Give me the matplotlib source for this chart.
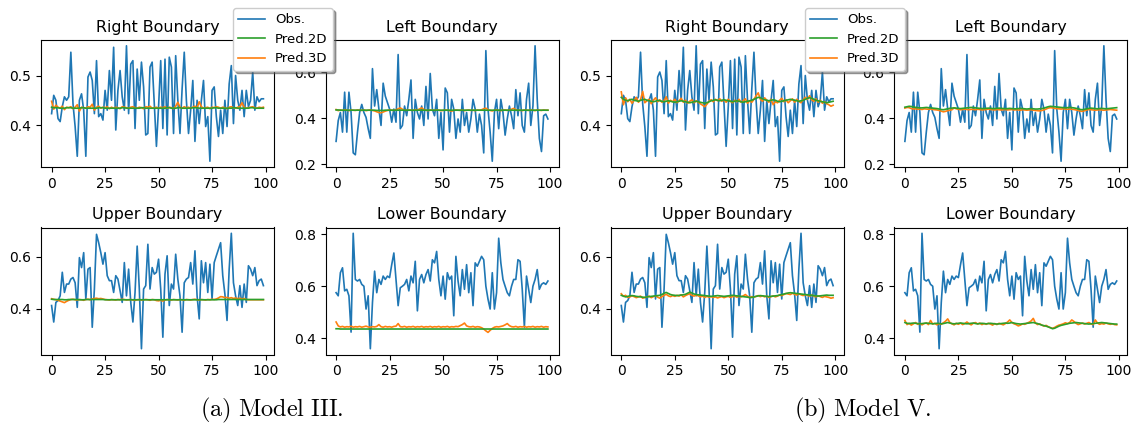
import matplotlib
matplotlib.use('Agg')
import matplotlib.pyplot as plt
import numpy as np

plt.rcParams['mathtext.fontset'] = 'cm'

titles = ['Right Boundary', 'Left Boundary', 'Upper Boundary', 'Lower Boundary']
labels = ['Obs.', 'Pred.2D', 'Pred.3D']
captions = [r'$\mathrm{(a)\ Model\ III.}$', r'$\mathrm{(b)\ Model\ V.}$']
xticks = [0, 25, 50, 75, 100]
yticks = [[0.4, 0.5], [0.2, 0.4, 0.6], [0.4, 0.6], [0.4, 0.6, 0.8]]

# observed boundary values (same in both models)
obs_right = [
    0.423, 0.460, 0.450, 0.413, 0.407, 0.437, 0.457, 0.450, 0.457, 0.547,
    0.443, 0.397, 0.337, 0.450, 0.463, 0.430, 0.337, 0.497, 0.507, 0.490,
    0.423, 0.530, 0.417, 0.423, 0.410, 0.470, 0.430, 0.510, 0.450, 0.557,
    0.390, 0.470, 0.510, 0.457, 0.430, 0.560, 0.423, 0.523, 0.530, 0.393,
    0.513, 0.450, 0.527, 0.477, 0.380, 0.383, 0.517, 0.527, 0.443, 0.357,
    0.437, 0.530, 0.393, 0.533, 0.380, 0.537, 0.517, 0.383, 0.540, 0.450,
    0.383, 0.473, 0.547, 0.450, 0.383, 0.430, 0.490, 0.367, 0.450, 0.403,
    0.450, 0.490, 0.397, 0.417, 0.327, 0.470, 0.477, 0.417, 0.377, 0.430,
    0.383, 0.450, 0.397, 0.483, 0.520, 0.403, 0.500, 0.450, 0.430, 0.470,
    0.417, 0.470, 0.437, 0.450, 0.507, 0.430, 0.457, 0.447, 0.453, 0.453]
obs_left = [
    0.300, 0.390, 0.425, 0.340, 0.513, 0.340, 0.513, 0.425, 0.250, 0.242,
    0.340, 0.425, 0.460, 0.425, 0.404, 0.355, 0.313, 0.615, 0.453, 0.524,
    0.440, 0.369, 0.552, 0.496, 0.468, 0.440, 0.383, 0.440, 0.383, 0.676,
    0.355, 0.369, 0.453, 0.411, 0.482, 0.566, 0.313, 0.482, 0.425, 0.397,
    0.453, 0.369, 0.538, 0.397, 0.594, 0.440, 0.411, 0.482, 0.313, 0.425,
    0.263, 0.531, 0.510, 0.340, 0.482, 0.440, 0.313, 0.397, 0.340, 0.482,
    0.369, 0.425, 0.340, 0.397, 0.482, 0.440, 0.340, 0.418, 0.369, 0.250,
    0.693, 0.440, 0.340, 0.214, 0.425, 0.482, 0.355, 0.482, 0.425, 0.327,
    0.397, 0.453, 0.411, 0.355, 0.524, 0.411, 0.510, 0.369, 0.340, 0.482,
    0.552, 0.369, 0.453, 0.714, 0.482, 0.313, 0.256, 0.411, 0.418, 0.397]
obs_upper = [
    0.413, 0.350, 0.425, 0.432, 0.450, 0.540, 0.463, 0.495, 0.495, 0.514,
    0.520, 0.500, 0.406, 0.596, 0.558, 0.615, 0.438, 0.552, 0.558, 0.330,
    0.476, 0.685, 0.653, 0.615, 0.571, 0.615, 0.527, 0.508, 0.508, 0.463,
    0.527, 0.514, 0.470, 0.425, 0.577, 0.450, 0.552, 0.425, 0.350, 0.463,
    0.640, 0.476, 0.248, 0.476, 0.489, 0.647, 0.476, 0.558, 0.533, 0.540,
    0.590, 0.476, 0.292, 0.533, 0.603, 0.413, 0.495, 0.476, 0.609, 0.514,
    0.450, 0.311, 0.500, 0.514, 0.520, 0.577, 0.495, 0.622, 0.450, 0.362,
    0.584, 0.500, 0.577, 0.463, 0.571, 0.438, 0.577, 0.603, 0.628, 0.653,
    0.527, 0.457, 0.356, 0.552, 0.689, 0.500, 0.450, 0.413, 0.489, 0.406,
    0.495, 0.425, 0.565, 0.552, 0.527, 0.558, 0.489, 0.508, 0.514, 0.489]
obs_lower = [
    0.575, 0.563, 0.652, 0.671, 0.582, 0.588, 0.563, 0.423, 0.804, 0.626,
    0.620, 0.626, 0.607, 0.600, 0.512, 0.563, 0.359, 0.537, 0.658, 0.575,
    0.626, 0.607, 0.639, 0.626, 0.639, 0.633, 0.683, 0.728, 0.626, 0.525,
    0.594, 0.600, 0.607, 0.626, 0.582, 0.639, 0.613, 0.696, 0.505, 0.626,
    0.645, 0.613, 0.645, 0.664, 0.620, 0.702, 0.690, 0.734, 0.626, 0.563,
    0.639, 0.550, 0.652, 0.626, 0.639, 0.486, 0.715, 0.620, 0.563, 0.664,
    0.588, 0.683, 0.575, 0.652, 0.525, 0.690, 0.677, 0.696, 0.715, 0.702,
    0.600, 0.550, 0.512, 0.652, 0.512, 0.575, 0.785, 0.690, 0.626, 0.600,
    0.575, 0.563, 0.600, 0.626, 0.626, 0.702, 0.696, 0.588, 0.442, 0.639,
    0.588, 0.537, 0.600, 0.626, 0.664, 0.588, 0.607, 0.613, 0.607, 0.620]

# Model III predictions
m3_right_2d = [
    0.436, 0.435, 0.435, 0.435, 0.434, 0.434, 0.434, 0.435, 0.435, 0.435,
    0.434, 0.434, 0.434, 0.434, 0.435, 0.435, 0.434, 0.434, 0.434, 0.434,
    0.434, 0.434, 0.435, 0.435, 0.435, 0.434, 0.434, 0.434, 0.434, 0.434,
    0.434, 0.434, 0.434, 0.435, 0.435, 0.434, 0.434, 0.434, 0.434, 0.434,
    0.434, 0.434, 0.435, 0.435, 0.434, 0.434, 0.434, 0.434, 0.434, 0.434,
    0.434, 0.434, 0.434, 0.434, 0.435, 0.435, 0.434, 0.434, 0.434, 0.435,
    0.435, 0.434, 0.434, 0.434, 0.434, 0.434, 0.435, 0.435, 0.435, 0.434,
    0.434, 0.434, 0.434, 0.434, 0.434, 0.434, 0.435, 0.435, 0.434, 0.434,
    0.434, 0.434, 0.434, 0.434, 0.434, 0.435, 0.435, 0.434, 0.434, 0.434,
    0.434, 0.434, 0.434, 0.435, 0.435, 0.434, 0.434, 0.434, 0.434, 0.434]
m3_right_3d = [
    0.448, 0.432, 0.440, 0.436, 0.434, 0.438, 0.431, 0.436, 0.435, 0.437,
    0.433, 0.436, 0.441, 0.428, 0.436, 0.435, 0.434, 0.437, 0.436, 0.442,
    0.430, 0.436, 0.438, 0.434, 0.436, 0.435, 0.437, 0.433, 0.436, 0.434,
    0.436, 0.435, 0.433, 0.437, 0.436, 0.435, 0.434, 0.436, 0.437, 0.435,
    0.434, 0.436, 0.435, 0.433, 0.437, 0.436, 0.438, 0.434, 0.435, 0.436,
    0.434, 0.436, 0.435, 0.437, 0.434, 0.436, 0.435, 0.433, 0.438, 0.446,
    0.436, 0.434, 0.437, 0.435, 0.436, 0.434, 0.436, 0.438, 0.435, 0.447,
    0.437, 0.434, 0.435, 0.436, 0.433, 0.436, 0.435, 0.437, 0.436, 0.434,
    0.436, 0.435, 0.433, 0.436, 0.437, 0.435, 0.434, 0.436, 0.437, 0.445,
    0.436, 0.434, 0.435, 0.436, 0.437, 0.435, 0.434, 0.436, 0.435, 0.436]
m3_left_2d = [
    0.436, 0.436, 0.435, 0.435, 0.435, 0.435, 0.435, 0.435, 0.435, 0.435,
    0.435, 0.435, 0.435, 0.435, 0.435, 0.435, 0.435, 0.435, 0.435, 0.434,
    0.434, 0.434, 0.434, 0.435, 0.435, 0.435, 0.435, 0.435, 0.435, 0.435,
    0.435, 0.435, 0.435, 0.435, 0.435, 0.435, 0.435, 0.435, 0.435, 0.435,
    0.435, 0.435, 0.435, 0.435, 0.435, 0.435, 0.435, 0.435, 0.435, 0.435,
    0.435, 0.435, 0.435, 0.435, 0.435, 0.435, 0.435, 0.435, 0.435, 0.435,
    0.435, 0.435, 0.435, 0.435, 0.435, 0.435, 0.435, 0.435, 0.435, 0.435,
    0.435, 0.435, 0.435, 0.435, 0.435, 0.435, 0.435, 0.435, 0.435, 0.435,
    0.435, 0.435, 0.435, 0.435, 0.435, 0.435, 0.435, 0.435, 0.435, 0.435,
    0.435, 0.435, 0.435, 0.435, 0.435, 0.435, 0.435, 0.435, 0.435, 0.435]
m3_left_3d = [
    0.438, 0.433, 0.436, 0.434, 0.437, 0.435, 0.433, 0.436, 0.435, 0.434,
    0.436, 0.435, 0.434, 0.436, 0.433, 0.435, 0.436, 0.434, 0.432, 0.428,
    0.425, 0.424, 0.427, 0.431, 0.434, 0.436, 0.435, 0.434, 0.437, 0.441,
    0.445, 0.439, 0.435, 0.434, 0.436, 0.435, 0.434, 0.437, 0.436, 0.440,
    0.445, 0.438, 0.435, 0.433, 0.436, 0.435, 0.434, 0.436, 0.435, 0.433,
    0.434, 0.436, 0.435, 0.433, 0.431, 0.434, 0.436, 0.435, 0.434, 0.436,
    0.433, 0.435, 0.436, 0.434, 0.435, 0.433, 0.436, 0.435, 0.437, 0.441,
    0.444, 0.437, 0.434, 0.432, 0.435, 0.436, 0.434, 0.433, 0.435, 0.436,
    0.434, 0.436, 0.439, 0.443, 0.437, 0.434, 0.435, 0.433, 0.436, 0.435,
    0.434, 0.436, 0.435, 0.433, 0.436, 0.435, 0.434, 0.436, 0.435, 0.435]
m3_upper_2d = [
    0.437, 0.436, 0.436, 0.436, 0.436, 0.436, 0.435, 0.435, 0.436, 0.436,
    0.436, 0.436, 0.436, 0.435, 0.435, 0.435, 0.436, 0.436, 0.436, 0.436,
    0.436, 0.436, 0.436, 0.436, 0.436, 0.435, 0.435, 0.435, 0.435, 0.435,
    0.435, 0.435, 0.435, 0.435, 0.435, 0.435, 0.435, 0.435, 0.435, 0.435,
    0.435, 0.435, 0.435, 0.435, 0.435, 0.435, 0.435, 0.435, 0.435, 0.435,
    0.435, 0.435, 0.435, 0.435, 0.435, 0.435, 0.435, 0.435, 0.435, 0.435,
    0.435, 0.435, 0.435, 0.435, 0.435, 0.435, 0.435, 0.435, 0.435, 0.435,
    0.435, 0.435, 0.435, 0.435, 0.435, 0.435, 0.435, 0.435, 0.436, 0.436,
    0.436, 0.436, 0.436, 0.436, 0.436, 0.436, 0.436, 0.436, 0.436, 0.436,
    0.436, 0.436, 0.436, 0.436, 0.436, 0.436, 0.436, 0.436, 0.436, 0.436]
m3_upper_3d = [
    0.439, 0.437, 0.435, 0.433, 0.430, 0.427, 0.424, 0.429, 0.433, 0.436,
    0.437, 0.435, 0.434, 0.436, 0.435, 0.433, 0.436, 0.437, 0.435, 0.438,
    0.440, 0.441, 0.439, 0.440, 0.438, 0.436, 0.435, 0.434, 0.436, 0.435,
    0.434, 0.436, 0.435, 0.437, 0.436, 0.434, 0.435, 0.436, 0.434, 0.433,
    0.435, 0.436, 0.434, 0.435, 0.436, 0.435, 0.433, 0.436, 0.435, 0.432,
    0.431, 0.433, 0.430, 0.434, 0.436, 0.435, 0.434, 0.436, 0.435, 0.434,
    0.436, 0.435, 0.433, 0.436, 0.435, 0.434, 0.436, 0.437, 0.435, 0.434,
    0.436, 0.435, 0.434, 0.436, 0.435, 0.437, 0.436, 0.438, 0.442, 0.447,
    0.446, 0.443, 0.444, 0.441, 0.443, 0.440, 0.442, 0.439, 0.441, 0.438,
    0.440, 0.436, 0.435, 0.435, 0.435, 0.435, 0.435, 0.435, 0.435, 0.435]
m3_lower_2d = [
    0.436, 0.436, 0.435, 0.435, 0.435, 0.435, 0.435, 0.435, 0.435, 0.435,
    0.435, 0.435, 0.435, 0.435, 0.435, 0.435, 0.435, 0.435, 0.435, 0.435,
    0.435, 0.435, 0.435, 0.435, 0.435, 0.435, 0.435, 0.435, 0.435, 0.435,
    0.435, 0.435, 0.435, 0.435, 0.435, 0.435, 0.435, 0.435, 0.435, 0.435,
    0.435, 0.435, 0.435, 0.435, 0.435, 0.435, 0.435, 0.435, 0.435, 0.435,
    0.435, 0.435, 0.435, 0.435, 0.435, 0.435, 0.435, 0.435, 0.435, 0.435,
    0.435, 0.435, 0.435, 0.435, 0.435, 0.435, 0.435, 0.435, 0.435, 0.435,
    0.435, 0.435, 0.435, 0.435, 0.435, 0.435, 0.435, 0.435, 0.435, 0.435,
    0.435, 0.435, 0.435, 0.435, 0.435, 0.435, 0.435, 0.435, 0.435, 0.435,
    0.435, 0.435, 0.435, 0.435, 0.435, 0.435, 0.435, 0.435, 0.435, 0.435]
m3_lower_3d = [
    0.462, 0.447, 0.443, 0.445, 0.442, 0.444, 0.443, 0.446, 0.442, 0.444,
    0.443, 0.445, 0.442, 0.444, 0.446, 0.443, 0.442, 0.444, 0.443, 0.445,
    0.452, 0.444, 0.442, 0.445, 0.443, 0.444, 0.442, 0.445, 0.446, 0.456,
    0.444, 0.443, 0.445, 0.442, 0.444, 0.443, 0.445, 0.442, 0.444, 0.443,
    0.445, 0.442, 0.444, 0.443, 0.445, 0.442, 0.444, 0.443, 0.445, 0.442,
    0.444, 0.443, 0.445, 0.442, 0.444, 0.443, 0.445, 0.444, 0.448, 0.452,
    0.458, 0.447, 0.444, 0.443, 0.445, 0.442, 0.444, 0.443, 0.440, 0.435,
    0.428, 0.422, 0.430, 0.437, 0.442, 0.444, 0.443, 0.445, 0.447, 0.451,
    0.456, 0.448, 0.444, 0.443, 0.445, 0.442, 0.444, 0.443, 0.445, 0.442,
    0.444, 0.443, 0.445, 0.442, 0.444, 0.443, 0.445, 0.442, 0.444, 0.443]

# Model V predictions
m5_right_2d = [
    0.456, 0.452, 0.450, 0.449, 0.451, 0.452, 0.450, 0.449, 0.448, 0.450,
    0.451, 0.452, 0.450, 0.449, 0.448, 0.447, 0.448, 0.450, 0.449, 0.448,
    0.447, 0.448, 0.449, 0.448, 0.447, 0.446, 0.447, 0.448, 0.449, 0.448,
    0.447, 0.446, 0.445, 0.446, 0.447, 0.448, 0.447, 0.446, 0.445, 0.444,
    0.445, 0.447, 0.449, 0.450, 0.451, 0.450, 0.449, 0.450, 0.451, 0.450,
    0.449, 0.448, 0.447, 0.448, 0.449, 0.448, 0.447, 0.446, 0.447, 0.448,
    0.449, 0.450, 0.452, 0.454, 0.456, 0.455, 0.453, 0.451, 0.450, 0.449,
    0.450, 0.451, 0.450, 0.448, 0.447, 0.448, 0.449, 0.450, 0.451, 0.452,
    0.451, 0.450, 0.449, 0.448, 0.449, 0.450, 0.452, 0.454, 0.455, 0.454,
    0.452, 0.450, 0.449, 0.448, 0.447, 0.446, 0.445, 0.446, 0.447, 0.448]
m5_right_3d = [
    0.467, 0.441, 0.455, 0.447, 0.452, 0.444, 0.450, 0.456, 0.446, 0.451,
    0.468, 0.445, 0.449, 0.452, 0.443, 0.450, 0.455, 0.447, 0.451, 0.446,
    0.449, 0.457, 0.444, 0.450, 0.447, 0.452, 0.445, 0.449, 0.454, 0.446,
    0.450, 0.444, 0.448, 0.451, 0.445, 0.449, 0.446, 0.443, 0.440, 0.437,
    0.442, 0.448, 0.451, 0.447, 0.452, 0.449, 0.453, 0.448, 0.451, 0.446,
    0.452, 0.448, 0.445, 0.450, 0.447, 0.452, 0.446, 0.449, 0.453, 0.444,
    0.449, 0.446, 0.452, 0.459, 0.465, 0.452, 0.448, 0.455, 0.450, 0.446,
    0.452, 0.441, 0.447, 0.445, 0.450, 0.454, 0.447, 0.451, 0.445, 0.449,
    0.453, 0.446, 0.452, 0.448, 0.445, 0.451, 0.456, 0.452, 0.459, 0.451,
    0.448, 0.453, 0.446, 0.450, 0.444, 0.447, 0.443, 0.441, 0.438, 0.440]
m5_left_2d = [
    0.448, 0.450, 0.452, 0.451, 0.449, 0.447, 0.446, 0.445, 0.445, 0.446,
    0.447, 0.446, 0.445, 0.444, 0.443, 0.442, 0.440, 0.438, 0.437, 0.439,
    0.441, 0.443, 0.444, 0.445, 0.444, 0.443, 0.442, 0.443, 0.444, 0.445,
    0.446, 0.447, 0.446, 0.445, 0.444, 0.443, 0.442, 0.442, 0.443, 0.444,
    0.443, 0.442, 0.442, 0.443, 0.444, 0.443, 0.442, 0.441, 0.442, 0.443,
    0.442, 0.441, 0.441, 0.442, 0.443, 0.442, 0.441, 0.440, 0.441, 0.442,
    0.441, 0.440, 0.440, 0.441, 0.442, 0.444, 0.447, 0.450, 0.452, 0.451,
    0.450, 0.449, 0.448, 0.447, 0.446, 0.445, 0.446, 0.447, 0.446, 0.445,
    0.443, 0.441, 0.438, 0.437, 0.439, 0.441, 0.443, 0.444, 0.443, 0.442,
    0.441, 0.442, 0.443, 0.442, 0.441, 0.442, 0.443, 0.444, 0.445, 0.446]
m5_left_3d = [
    0.444, 0.447, 0.446, 0.442, 0.440, 0.441, 0.439, 0.440, 0.438, 0.441,
    0.440, 0.439, 0.440, 0.438, 0.437, 0.436, 0.434, 0.431, 0.428, 0.430,
    0.433, 0.435, 0.437, 0.445, 0.441, 0.439, 0.437, 0.438, 0.440, 0.438,
    0.437, 0.439, 0.438, 0.437, 0.439, 0.438, 0.436, 0.437, 0.438, 0.440,
    0.438, 0.437, 0.436, 0.438, 0.437, 0.436, 0.437, 0.438, 0.436, 0.437,
    0.438, 0.436, 0.437, 0.436, 0.435, 0.437, 0.436, 0.435, 0.436, 0.437,
    0.435, 0.434, 0.433, 0.432, 0.434, 0.436, 0.440, 0.444, 0.446, 0.445,
    0.443, 0.442, 0.441, 0.440, 0.441, 0.440, 0.439, 0.440, 0.439, 0.438,
    0.436, 0.434, 0.431, 0.430, 0.433, 0.436, 0.438, 0.437, 0.436, 0.435,
    0.436, 0.437, 0.436, 0.435, 0.436, 0.437, 0.438, 0.437, 0.436, 0.435]
m5_upper_2d = [
    0.452, 0.449, 0.446, 0.448, 0.450, 0.451, 0.450, 0.448, 0.447, 0.446,
    0.445, 0.444, 0.446, 0.447, 0.448, 0.449, 0.450, 0.451, 0.452, 0.455,
    0.460, 0.463, 0.459, 0.455, 0.453, 0.452, 0.451, 0.452, 0.453, 0.454,
    0.456, 0.460, 0.464, 0.461, 0.457, 0.455, 0.454, 0.453, 0.452, 0.451,
    0.450, 0.449, 0.448, 0.449, 0.450, 0.451, 0.450, 0.449, 0.448, 0.449,
    0.450, 0.451, 0.452, 0.451, 0.450, 0.449, 0.448, 0.447, 0.446, 0.445,
    0.443, 0.444, 0.446, 0.448, 0.450, 0.451, 0.450, 0.449, 0.448, 0.447,
    0.448, 0.449, 0.450, 0.451, 0.453, 0.455, 0.457, 0.459, 0.461, 0.462,
    0.461, 0.460, 0.459, 0.458, 0.457, 0.456, 0.455, 0.454, 0.453, 0.452,
    0.451, 0.450, 0.449, 0.450, 0.451, 0.452, 0.453, 0.452, 0.452, 0.452]
m5_upper_3d = [
    0.458, 0.448, 0.452, 0.444, 0.446, 0.450, 0.447, 0.443, 0.446, 0.449,
    0.441, 0.444, 0.446, 0.449, 0.443, 0.447, 0.450, 0.445, 0.441, 0.447,
    0.452, 0.456, 0.450, 0.447, 0.451, 0.448, 0.452, 0.449, 0.454, 0.446,
    0.451, 0.455, 0.458, 0.452, 0.449, 0.453, 0.450, 0.446, 0.449, 0.444,
    0.448, 0.445, 0.447, 0.444, 0.446, 0.442, 0.445, 0.447, 0.443, 0.446,
    0.448, 0.444, 0.447, 0.449, 0.445, 0.448, 0.446, 0.450, 0.455, 0.448,
    0.444, 0.447, 0.445, 0.448, 0.451, 0.447, 0.450, 0.446, 0.449, 0.444,
    0.447, 0.450, 0.446, 0.449, 0.453, 0.451, 0.455, 0.459, 0.457, 0.455,
    0.460, 0.456, 0.453, 0.458, 0.454, 0.451, 0.455, 0.452, 0.449, 0.453,
    0.449, 0.446, 0.450, 0.447, 0.444, 0.448, 0.446, 0.444, 0.441, 0.443]
m5_lower_2d = [
    0.460, 0.457, 0.456, 0.457, 0.458, 0.457, 0.456, 0.455, 0.456, 0.457,
    0.458, 0.457, 0.456, 0.455, 0.456, 0.457, 0.456, 0.455, 0.456, 0.458,
    0.460, 0.458, 0.456, 0.455, 0.456, 0.457, 0.458, 0.457, 0.456, 0.455,
    0.456, 0.457, 0.458, 0.456, 0.455, 0.456, 0.457, 0.456, 0.455, 0.456,
    0.457, 0.456, 0.455, 0.454, 0.455, 0.456, 0.457, 0.458, 0.457, 0.458,
    0.460, 0.458, 0.456, 0.455, 0.454, 0.455, 0.456, 0.457, 0.458, 0.459,
    0.460, 0.458, 0.456, 0.453, 0.450, 0.448, 0.446, 0.443, 0.440, 0.436,
    0.438, 0.442, 0.446, 0.449, 0.451, 0.453, 0.455, 0.457, 0.458, 0.459,
    0.460, 0.459, 0.458, 0.457, 0.456, 0.455, 0.454, 0.455, 0.456, 0.457,
    0.458, 0.459, 0.460, 0.459, 0.458, 0.457, 0.456, 0.455, 0.454, 0.454]
m5_lower_3d = [
    0.468, 0.452, 0.457, 0.450, 0.455, 0.460, 0.453, 0.457, 0.451, 0.456,
    0.458, 0.452, 0.468, 0.454, 0.457, 0.451, 0.456, 0.453, 0.459, 0.465,
    0.474, 0.460, 0.455, 0.451, 0.457, 0.453, 0.458, 0.452, 0.456, 0.462,
    0.455, 0.451, 0.457, 0.460, 0.454, 0.458, 0.452, 0.456, 0.453, 0.457,
    0.454, 0.450, 0.456, 0.452, 0.457, 0.454, 0.451, 0.456, 0.462, 0.470,
    0.460, 0.455, 0.452, 0.447, 0.450, 0.455, 0.453, 0.457, 0.461, 0.466,
    0.476, 0.458, 0.452, 0.455, 0.450, 0.446, 0.449, 0.444, 0.440, 0.438,
    0.441, 0.446, 0.450, 0.452, 0.455, 0.459, 0.456, 0.460, 0.470, 0.464,
    0.457, 0.452, 0.455, 0.458, 0.454, 0.457, 0.460, 0.455, 0.452, 0.470,
    0.458, 0.453, 0.456, 0.454, 0.458, 0.455, 0.453, 0.455, 0.452, 0.451]

W, H = 1131, 433
AX_W, AX_H = 233, 127


def draw_group(fig, lefts, obs, pred2d, pred3d, legend_x, caption, caption_x):
    """
    Draw one 2x2 block of boundary panels with its legend and caption
    """
    tops = [40, 227.5]
    handles = None
    for i, title in enumerate(titles):
        left = lefts[i % 2]
        top = tops[i // 2]
        ax = fig.add_axes([left / W, 1 - (top + AX_H) / H, AX_W / W, AX_H / H])
        l1, = ax.plot(np.arange(len(obs[i])), obs[i], color='#1f77b4', lw=1.2, zorder=2)
        l3, = ax.plot(np.arange(len(pred3d[i])), pred3d[i], color='#ff7f0e', lw=1.2, zorder=3)
        l2, = ax.plot(np.arange(len(pred2d[i])), pred2d[i], color='#2ca02c', lw=1.2, zorder=4)
        handles = [l1, l2, l3]
        ax.set_title(title, fontsize=11.4, pad=6)
        ax.set_xticks(xticks)
        ax.set_yticks(yticks[i])
        ax.tick_params(labelsize=10, length=3.5)
        ax.yaxis.set_major_formatter(matplotlib.ticker.FormatStrFormatter('%.1f'))

    fig.legend(handles, labels, loc='upper left',
               bbox_to_anchor=(legend_x / W, 1 - 8 / H), borderaxespad=0,
               fontsize=9.5, shadow=True, framealpha=1)
    fig.text(caption_x / W, 1 - 410 / H, caption, fontsize=17.5, ha='center', va='center')


fig = plt.figure(figsize=(W / 100, H / 100), dpi=100)

draw_group(fig, [41, 325.5],
           [obs_right, obs_left, obs_upper, obs_lower],
           [m3_right_2d, m3_left_2d, m3_upper_2d, m3_lower_2d],
           [m3_right_3d, m3_left_3d, m3_upper_3d, m3_lower_3d],
           233, captions[0], 272)
draw_group(fig, [610.7, 894.3],
           [obs_right, obs_left, obs_upper, obs_lower],
           [m5_right_2d, m5_left_2d, m5_upper_2d, m5_lower_2d],
           [m5_right_3d, m5_left_3d, m5_upper_3d, m5_lower_3d],
           805, captions[1], 862)

fig.savefig('out.png', dpi=100)
plt.close(fig)
